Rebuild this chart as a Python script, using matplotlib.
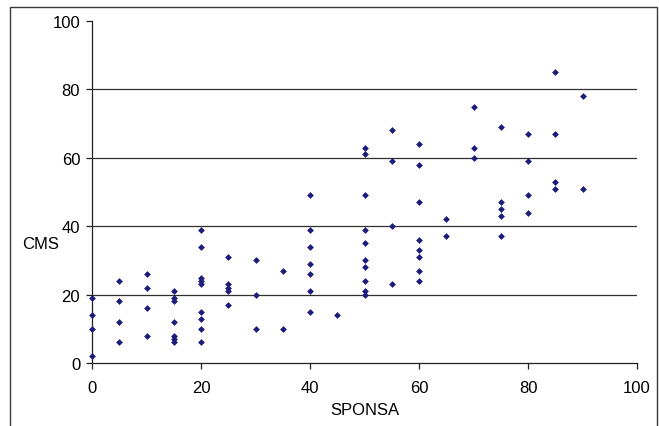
import matplotlib
matplotlib.use("Agg")
import matplotlib.pyplot as plt
from matplotlib.patches import Rectangle

# SPONSA (x) vs CMS (y), one list per SPONSA column
sponsa = ([0] * 4 + [5] * 4 + [10] * 4 + [15] * 7 + [20] * 9 + [25] * 5 +
          [30] * 3 + [35] * 2 + [40] * 7 + [45] * 1 + [50] * 10 + [55] * 4 +
          [60] * 8 + [65] * 2 + [70] * 3 + [75] * 5 + [80] * 4 + [85] * 4 +
          [90] * 2)
cms = ([19, 14, 10, 2] +
       [24, 18, 12, 6] +
       [26, 22, 16, 8] +
       [21, 19, 18, 12, 8, 7, 6] +
       [39, 34, 25, 24, 23, 15, 13, 10, 6] +
       [31, 23, 22, 21, 17] +
       [30, 20, 10] +
       [27, 10] +
       [49, 39, 34, 29, 26, 21, 15] +
       [14] +
       [63, 61, 49, 39, 35, 30, 28, 24, 21, 20] +
       [68, 59, 40, 23] +
       [64, 58, 47, 36, 33, 31, 27, 24] +
       [42, 37] +
       [75, 63, 60] +
       [69, 47, 45, 43, 37] +
       [67, 59, 49, 44] +
       [85, 67, 53, 51] +
       [78, 51])
xticks = [0, 20, 40, 60, 80, 100]
yticks = [0, 20, 40, 60, 80, 100]

plt.rcParams["font.family"] = ["Liberation Sans", "DejaVu Sans"]

fig = plt.figure(figsize=(6.59, 4.27), dpi=100)
ax = fig.add_axes([92 / 659, 63 / 427, 545 / 659, 342 / 427])

# outer frame (bottom edge runs off the image)
fig.patches.append(Rectangle((10 / 659, -0.05), 647 / 659, 1.05 - 8 / 427,
                             transform=fig.transFigure, fill=False,
                             edgecolor="#3a3a3a", lw=1.0))

for v in yticks[1:-1]:
    ax.axhline(v, color="#303030", lw=0.9, zorder=1)

ax.scatter(sponsa, cms, marker="D", s=12, color="#1c1c7c", linewidths=0,
           zorder=3, clip_on=False)

ax.set_xlim(0, 100)
ax.set_ylim(0, 100)
ax.set_xticks(xticks)
ax.set_yticks(yticks)
for s in ["top", "right"]:
    ax.spines[s].set_visible(False)
for s in ["left", "bottom"]:
    ax.spines[s].set_color("#202020")
    ax.spines[s].set_linewidth(0.9)
ax.tick_params(axis="both", direction="out", length=4.5, width=0.9,
               color="#202020", labelsize=12)
ax.tick_params(axis="x", pad=8)
ax.tick_params(axis="y", pad=4)

ax.set_xlabel("SPONSA", fontsize=12, labelpad=5)
ax.set_ylabel("CMS", fontsize=12, rotation=0, ha="center", va="center")
ax.yaxis.set_label_coords(-0.094, 0.35)

fig.savefig("out.png", dpi=100)
